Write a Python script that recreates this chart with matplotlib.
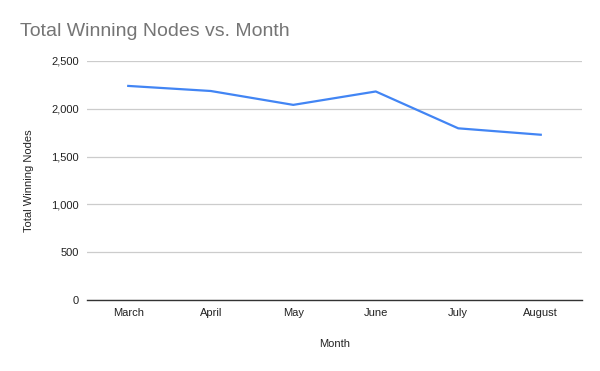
import matplotlib.pyplot as plt
import numpy as np

plt.rcParams['font.family'] = ['Liberation Sans', 'DejaVu Sans']

months = ['March', 'April', 'May', 'June', 'July', 'August']
winning_nodes = [2238, 2185, 2040, 2180, 1795, 1728]

fig = plt.figure(figsize=(6, 3.71), dpi=100)
ax = fig.add_axes([0.145, 0.191, 0.825, 0.645])

x = np.arange(len(months))
ax.plot(x, winning_nodes, color='#4285f4', linewidth=1.6)

ax.set_xlim(-0.5, len(months) - 0.5)
ax.set_ylim(0, 2500)
ax.set_yticks(np.arange(0, 2501, 500))
ax.set_yticklabels(['{:,}'.format(v) for v in range(0, 2501, 500)])
ax.set_xticks(x)
ax.set_xticklabels(months)

ax.grid(axis='y', color='#cccccc', linewidth=0.9)
ax.set_axisbelow(True)
for side in ['top', 'right', 'left']:
    ax.spines[side].set_visible(False)
ax.spines['bottom'].set_color('#333333')
ax.spines['bottom'].set_linewidth(1.0)
ax.tick_params(length=0, labelsize=8, colors='#222222', pad=6)

ax.set_xlabel('Month', fontsize=8, color='#222222', labelpad=15)
ax.set_ylabel('Total Winning Nodes', fontsize=8, color='#222222', labelpad=12)

fig.text(0.033, 0.915, 'Total Winning Nodes vs. Month', fontsize=14, color='#757575', ha='left', va='center')

fig.savefig('out.png', dpi=100)
